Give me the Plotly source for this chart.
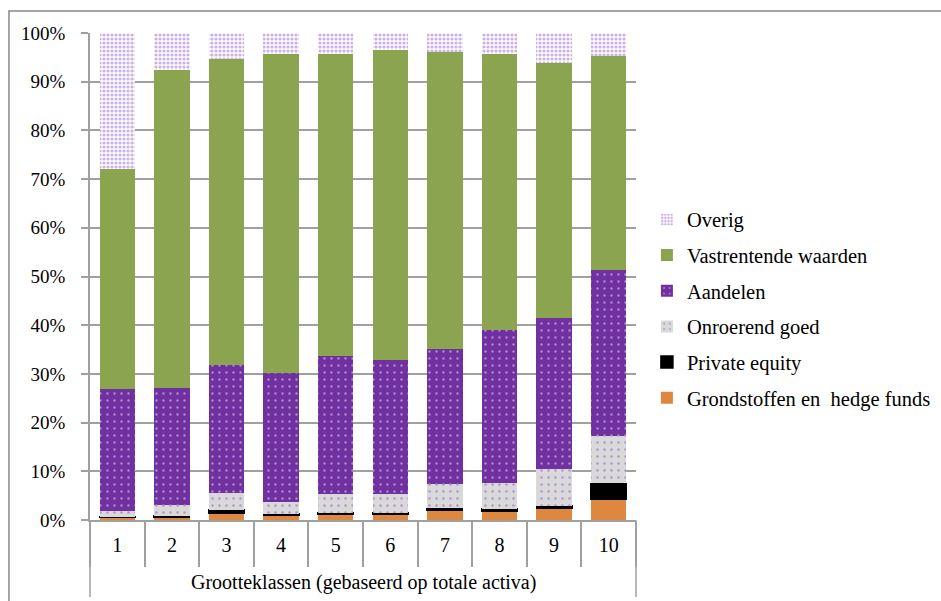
import plotly.graph_objects as go

categories = ["1", "2", "3", "4", "5", "6", "7", "8", "9", "10"]

grondstoffen = [0.6, 0.5, 1.3, 0.9, 1.1, 1.1, 2.1, 1.75, 2.4, 4.3]
private_equity = [0.1, 0.4, 0.8, 0.4, 0.4, 0.4, 0.3, 0.55, 0.5, 3.2]
onroerend = [1.15, 2.1, 3.4, 2.4, 3.8, 3.8, 4.9, 5.3, 7.5, 9.7]
aandelen = [25.15, 24.2, 26.3, 26.5, 28.4, 27.6, 27.8, 31.4, 31.1, 34.2]
vastrentend = [45.0, 65.2, 62.9, 65.4, 61.9, 63.7, 60.9, 56.6, 52.3, 43.9]
overig = [28.0, 7.6, 5.3, 4.4, 4.4, 3.4, 4.0, 4.4, 6.2, 4.7]

y_ticks = list(range(0, 101, 10))
y_labels = [f"{v}%" for v in y_ticks]
x_title = "Grootteklassen (gebaseerd op totale activa)"

FONT = "'Liberation Serif', 'Times New Roman', 'DejaVu Serif', 'Noto Serif', serif"
GRID = "#A0A0A0"
PURPLE = "#7030A0"
DOT_PURPLE = "#8A4CC6"

fig = go.Figure()

fig.add_trace(go.Bar(
    x=categories, y=grondstoffen, name="Grondstoffen en  hedge funds",
    marker=dict(color="#DE873E", line=dict(width=0)), legendgroup="g1", legendrank=6))
fig.add_trace(go.Bar(
    x=categories, y=private_equity, name="Private equity",
    marker=dict(color="#000000", line=dict(width=1.5, color="#000000")),
    legendgroup="g2", legendrank=5))
fig.add_trace(go.Bar(
    x=categories, y=onroerend, name="Onroerend goed",
    marker=dict(color="#D9D9D9", line=dict(width=0),
                pattern=dict(shape=".", bgcolor="#D9D9D9", fgcolor=DOT_PURPLE,
                             size=7, solidity=0.1)), legendgroup="g3", legendrank=4))
fig.add_trace(go.Bar(
    x=categories, y=aandelen, name="Aandelen",
    marker=dict(color=PURPLE, line=dict(width=0),
                pattern=dict(shape=".", bgcolor=PURPLE, fgcolor="#EFE6F7",
                             size=7, solidity=0.09)), legendgroup="g4", legendrank=3))
fig.add_trace(go.Bar(
    x=categories, y=vastrentend, name="Vastrentende waarden",
    marker=dict(color="#8BA44F", line=dict(width=0)), legendgroup="g5", legendrank=2))
fig.add_trace(go.Bar(
    x=categories, y=overig, name="Overig",
    marker=dict(color="#FFFFFF", line=dict(width=0),
                pattern=dict(shape=".", bgcolor="#FFFFFF", fgcolor="#9A60D0",
                             size=4, solidity=0.5)), legendgroup="g6", legendrank=1))

fig.update_layout(
    width=941, height=601,
    margin=dict(l=90, r=305, t=33, b=81, autoexpand=False),
    barmode="stack", bargap=0.35,
    plot_bgcolor="white", paper_bgcolor="white",
    font=dict(family=FONT, size=19, color="black"),
    showlegend=True,
    legend=dict(x=1.02, xanchor="left", y=0.434, yanchor="middle",
                traceorder="grouped", tracegroupgap=6,
                font=dict(family=FONT, size=20.5, color="black"),
                bgcolor="rgba(0,0,0,0)"),
    xaxis=dict(type="category", tickson="boundaries", ticks="outside",
               ticklen=45, tickcolor=GRID, tickwidth=1.5,
               ticklabelstandoff=6, automargin=False,
               showline=True, linecolor=GRID, linewidth=1.5,
               showgrid=False, tickfont=dict(family=FONT, size=20)),
    yaxis=dict(range=[0, 100], tickvals=y_ticks, ticktext=y_labels,
               ticks="outside", ticklen=7, tickcolor=GRID, tickwidth=1.5,
               showgrid=True, gridcolor=GRID, gridwidth=1.5,
               showline=True, linecolor=GRID, linewidth=1.5,
               zeroline=False, ticklabelstandoff=12, automargin=False,
               tickfont=dict(family=FONT, size=19)),
    annotations=[dict(text=x_title, xref="x domain", yref="y domain",
                      x=0.5, y=-0.128, xanchor="center", yanchor="middle",
                      showarrow=False, font=dict(family=FONT, size=20))],
    shapes=[
        dict(type="line", xref="x domain", yref="y domain", x0=0, x1=0,
             y0=0, y1=-0.158, line=dict(color=GRID, width=1.5)),
        dict(type="line", xref="x domain", yref="y domain", x0=1, x1=1,
             y0=0, y1=-0.158, line=dict(color=GRID, width=1.5)),
        dict(type="rect", xref="x domain", yref="y domain", x0=-0.1484,
             x1=1.65, y0=-0.25, y1=1.045, line=dict(color="#888888", width=1.5),
             fillcolor="rgba(0,0,0,0)", layer="below"),
    ],
)

fig.write_html("out.html")
